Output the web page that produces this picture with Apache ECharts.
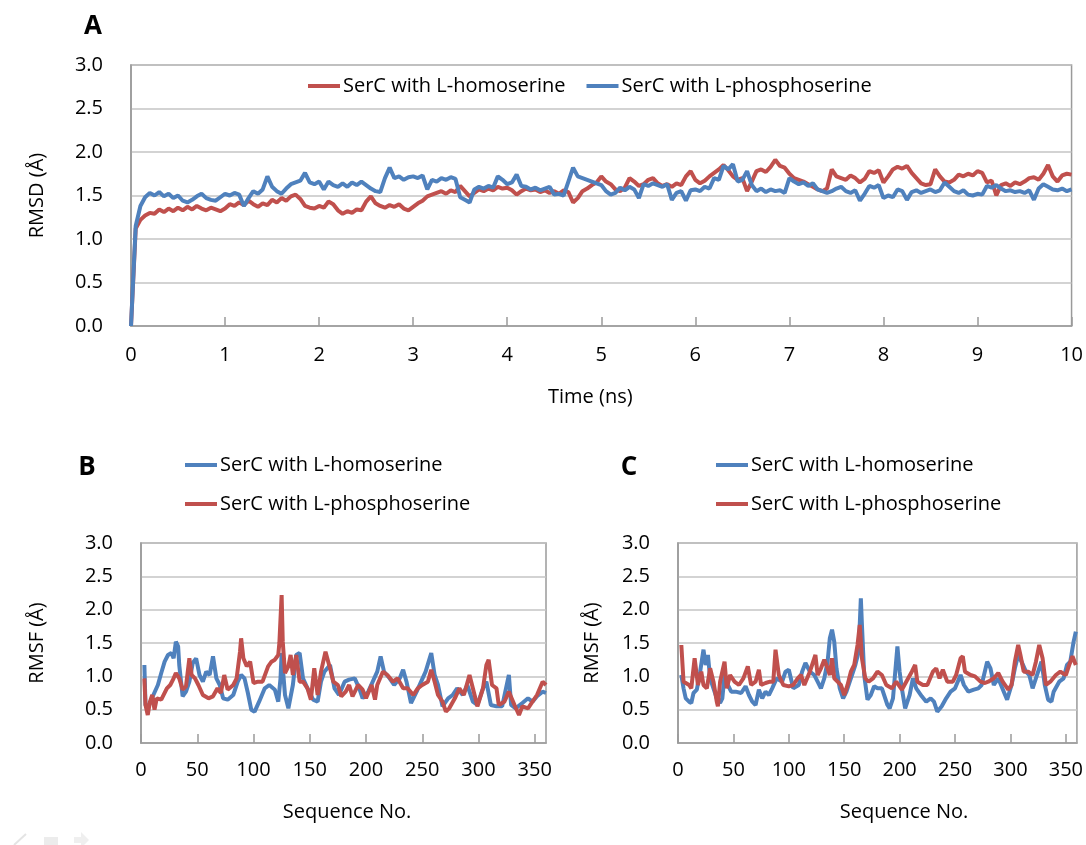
<!DOCTYPE html>
<html>
<head>
<meta charset="utf-8">
<script src="https://cdn.jsdelivr.net/npm/echarts@6/dist/echarts.min.js"></script>
<style>
html,body{margin:0;padding:0;background:#fff;}
#chart{width:1086px;height:845px;}
</style>
</head>
<body>
<div id="chart"></div>
<script>
// ---------- Panel A: RMSD vs time (ns), sampled every 0.05 ns ----------
const timeStep = 0.05;
const rmsdHomo = [
 0.00,1.12,1.22,1.27,1.30,1.29,1.34,1.31,1.35,1.32,
 1.36,1.33,1.37,1.34,1.38,1.35,1.33,1.36,1.34,1.32,
 1.35,1.40,1.38,1.42,1.39,1.44,1.40,1.37,1.41,1.39,
 1.45,1.42,1.47,1.44,1.49,1.51,1.46,1.38,1.36,1.35,
 1.38,1.36,1.43,1.40,1.33,1.29,1.32,1.30,1.34,1.33,
 1.43,1.49,1.41,1.38,1.36,1.39,1.37,1.40,1.35,1.33,
 1.37,1.41,1.44,1.49,1.51,1.53,1.55,1.52,1.56,1.54,
 1.61,1.55,1.49,1.53,1.57,1.55,1.58,1.56,1.60,1.58,
 1.59,1.56,1.51,1.55,1.58,1.56,1.57,1.54,1.56,1.53,
 1.55,1.52,1.56,1.54,1.42,1.47,1.55,1.58,1.62,1.65,
 1.72,1.66,1.63,1.57,1.55,1.59,1.70,1.66,1.61,1.63,
 1.68,1.70,1.64,1.61,1.63,1.60,1.64,1.62,1.72,1.78,
 1.68,1.64,1.67,1.72,1.76,1.80,1.85,1.79,1.72,1.68,
 1.70,1.55,1.66,1.78,1.80,1.77,1.83,1.91,1.84,1.82,
 1.75,1.70,1.68,1.66,1.63,1.60,1.57,1.55,1.58,1.80,
 1.72,1.70,1.68,1.73,1.70,1.65,1.69,1.78,1.76,1.79,
 1.65,1.72,1.80,1.83,1.81,1.84,1.76,1.70,1.64,1.62,
 1.63,1.80,1.72,1.66,1.65,1.68,1.74,1.72,1.75,1.73,
 1.78,1.76,1.65,1.67,1.50,1.62,1.64,1.61,1.65,1.63,
 1.66,1.70,1.71,1.68,1.75,1.85,1.72,1.66,1.73,1.75,
 1.74
];
const rmsdPhos = [
 0.00,1.15,1.38,1.48,1.53,1.50,1.54,1.49,1.52,1.47,
 1.50,1.44,1.42,1.45,1.49,1.52,1.47,1.45,1.44,1.48,
 1.52,1.50,1.53,1.51,1.38,1.47,1.55,1.52,1.57,1.72,
 1.60,1.55,1.52,1.58,1.63,1.65,1.67,1.76,1.65,1.63,
 1.66,1.57,1.66,1.62,1.60,1.64,1.60,1.65,1.62,1.66,
 1.62,1.58,1.55,1.54,1.70,1.82,1.70,1.72,1.68,1.71,
 1.72,1.70,1.73,1.57,1.68,1.66,1.70,1.68,1.71,1.69,
 1.48,1.45,1.42,1.57,1.60,1.58,1.61,1.59,1.72,1.68,
 1.63,1.65,1.74,1.61,1.60,1.57,1.59,1.56,1.58,1.60,
 1.51,1.52,1.50,1.66,1.82,1.72,1.70,1.68,1.66,1.64,
 1.62,1.55,1.51,1.53,1.59,1.56,1.60,1.57,1.47,1.63,
 1.61,1.64,1.62,1.60,1.63,1.45,1.53,1.55,1.44,1.56,
 1.57,1.55,1.60,1.58,1.70,1.68,1.84,1.80,1.86,1.66,
 1.68,1.78,1.62,1.55,1.58,1.54,1.57,1.55,1.56,1.53,
 1.70,1.66,1.63,1.65,1.61,1.64,1.57,1.55,1.53,1.55,
 1.58,1.60,1.55,1.53,1.56,1.44,1.52,1.61,1.59,1.62,
 1.47,1.50,1.48,1.57,1.55,1.45,1.54,1.56,1.53,1.55,
 1.57,1.54,1.56,1.65,1.60,1.55,1.53,1.56,1.51,1.50,
 1.52,1.51,1.61,1.59,1.62,1.58,1.55,1.56,1.54,1.55,
 1.53,1.56,1.45,1.58,1.63,1.60,1.57,1.56,1.58,1.55,
 1.57
];
const timeTicks = [0,1,2,3,4,5,6,7,8,9,10];

// ---------- Panel B: RMSF per residue ----------
const bHomoRes = [3,4,6,11,15,18,21,24,27,29,31,33,34,37,40,43,46,49,52,55,58,61,64,67,70,73,77,82,86,89,92,95,98,101,105,110,114,119,122,124,125,128,131,135,138,141,144,148,153,157,160,163,168,172,176,181,185,190,194,197,202,206,210,213,216,221,225,230,233,236,240,245,249,253,258,261,264,268,273,277,281,286,290,295,299,304,307,311,316,321,327,329,333,339,344,348,352,357,360];
const bHomo = [1.17,0.57,0.52,0.72,0.87,1.05,1.22,1.32,1.35,1.27,1.52,1.45,1.17,0.70,0.77,0.92,1.20,1.27,1.02,0.92,1.07,1.02,1.30,0.97,0.87,0.67,0.65,0.72,0.92,1.02,0.97,0.75,0.50,0.47,0.62,0.82,0.87,0.80,0.62,0.97,1.35,0.72,0.52,0.87,1.32,1.35,0.97,0.82,0.65,0.62,0.92,1.07,1.17,0.82,0.72,0.92,0.95,0.97,0.82,0.67,0.77,0.92,1.07,1.30,1.07,0.97,0.87,0.97,1.10,0.92,0.60,0.77,0.92,1.07,1.35,1.02,0.87,0.55,0.67,0.72,0.82,0.72,0.87,0.62,0.57,0.82,0.92,0.57,0.55,0.55,1.02,0.57,0.52,0.60,0.67,0.62,0.70,0.77,0.75];
const bPhosRes = [3,4,6,8,10,12,14,18,23,26,29,31,34,37,40,43,45,48,51,55,60,64,68,71,74,77,82,85,88,89,91,94,97,100,104,108,113,116,119,122,123,125,126,128,131,133,135,138,141,144,148,151,154,157,160,164,168,171,175,178,182,185,188,193,197,200,205,208,210,215,219,224,228,233,237,242,246,250,255,258,261,264,268,271,274,279,283,287,292,295,299,304,307,309,312,316,318,323,327,332,336,339,344,348,352,357,360];
const bPhos = [0.97,0.57,0.42,0.62,0.72,0.50,0.67,0.65,0.82,0.87,0.97,1.05,0.97,0.80,0.85,1.27,1.02,0.97,0.87,0.72,0.67,0.70,0.82,0.75,1.02,0.80,0.87,0.97,1.37,1.57,1.27,1.15,1.22,0.90,0.92,0.92,1.15,1.22,1.25,1.32,1.50,2.22,1.52,1.05,1.15,1.32,1.02,1.32,0.92,0.92,0.82,0.65,1.12,0.72,1.07,1.37,1.12,0.92,0.87,0.70,0.77,0.87,0.70,0.87,0.80,0.67,0.87,0.65,0.87,1.07,1.02,0.92,0.97,0.82,0.82,0.72,0.82,0.87,0.92,1.10,0.92,0.72,0.62,0.47,0.52,0.67,0.82,0.72,1.02,0.82,0.55,0.82,1.17,1.25,0.87,0.82,0.57,0.62,0.77,0.57,0.42,0.55,0.52,0.62,0.72,0.92,0.87];

// ---------- Panel C: RMSF per residue ----------
const cHomoRes = [3,5,7,10,12,14,17,20,23,25,27,29,32,35,38,40,42,45,48,52,57,61,64,67,70,73,76,79,82,85,89,94,97,100,104,109,112,115,119,123,126,129,132,135,137,139,141,143,146,149,152,155,157,160,163,165,166,168,171,174,177,180,184,189,191,194,198,200,202,205,209,212,215,220,224,228,231,234,238,242,246,250,255,258,262,267,271,274,279,282,285,289,294,297,301,304,307,310,314,317,320,325,328,331,334,337,339,344,348,351,354,357,359];
const cHomo = [1.02,0.82,0.67,0.62,0.60,0.75,0.80,1.07,1.40,1.17,1.32,0.97,0.82,0.67,0.60,0.67,1.02,0.87,0.77,0.77,0.75,0.85,0.72,0.62,0.57,0.80,0.67,0.77,0.72,0.82,0.97,0.92,1.07,1.10,0.82,0.87,1.07,1.20,1.07,1.02,0.92,0.82,0.97,1.22,1.57,1.70,1.52,1.12,0.82,0.67,0.77,0.92,1.02,1.17,1.37,2.17,1.77,1.02,0.65,0.72,0.85,0.82,0.82,0.57,0.52,0.67,1.45,1.07,0.82,0.52,0.72,0.97,0.82,0.70,0.62,0.67,0.62,0.47,0.55,0.67,0.77,0.82,1.02,0.87,0.77,0.80,0.82,0.87,1.22,1.12,0.87,0.97,0.77,0.65,0.87,1.12,1.32,1.22,1.07,1.02,0.82,1.07,1.22,0.87,0.65,0.62,0.77,0.92,0.97,1.17,1.22,1.52,1.67];
const cPhosRes = [3,5,7,10,12,15,18,21,23,26,29,32,35,36,38,42,44,47,51,55,59,63,66,70,73,75,79,83,86,88,91,95,100,104,108,111,114,119,124,126,129,132,135,137,139,141,144,147,150,153,156,159,162,164,166,169,172,176,180,184,188,193,197,202,206,211,214,216,221,225,230,233,236,239,243,248,251,255,257,259,264,268,273,277,280,285,289,293,298,301,304,307,309,312,316,320,323,326,329,332,336,341,345,350,353,356,359];
const cPhos = [1.47,0.92,0.90,0.87,0.82,1.27,0.87,1.07,0.87,0.82,1.12,0.92,0.62,0.55,0.92,1.22,0.82,1.02,0.92,0.87,0.97,1.15,0.87,0.92,1.10,0.87,0.90,0.92,0.92,1.40,1.02,0.87,0.85,0.87,0.97,1.02,0.87,1.07,1.32,1.02,1.12,1.25,1.12,1.02,1.27,0.97,0.92,0.87,0.72,0.87,1.07,1.17,1.47,1.77,1.27,0.97,0.92,0.97,1.07,1.02,0.87,0.82,0.92,0.80,0.92,1.07,1.17,0.92,0.87,0.87,1.07,1.12,0.97,1.10,0.92,0.92,1.02,1.27,1.30,1.07,1.02,1.00,0.92,0.90,0.92,0.97,1.05,0.92,0.80,0.87,1.22,1.47,1.32,1.07,1.07,1.02,1.22,1.47,1.27,0.87,0.92,1.02,1.07,1.02,1.17,1.30,1.17];

const nameHomo = 'SerC with L-homoserine';
const namePhos = 'SerC with L-phosphoserine';
const panelLabels = ['A', 'B', 'C'];

// ---------- styling ----------
const RED = '#C0504D', BLUE = '#4F81BD';
const AXIS = '#9a9a9a', GRID = '#c4c4c4';
const FONT = 'Open Sans';

function zip(xs, ys) { const n = Math.min(xs.length, ys.length); const out = []; for (let i = 0; i < n; i++) out.push([xs[i], ys[i]]); return out; }
const timesA = rmsdHomo.map((_, i) => +(i * timeStep).toFixed(2));

function yAx(gi, name, gap) {
  return {
    gridIndex: gi, type: 'value', min: 0, max: 3, interval: 0.5,
    name: name, nameLocation: 'middle', nameGap: gap, nameRotate: 90,
    nameTextStyle: { fontSize: 20, color: '#000', fontFamily: FONT },
    axisLine: { show: true, lineStyle: { color: AXIS, width: 1.5 } },
    axisTick: { show: false },
    axisLabel: { fontSize: 20, color: '#000', fontFamily: FONT, margin: 28, formatter: v => v.toFixed(1) },
    splitLine: { show: true, lineStyle: { color: GRID, width: 1.5 } }
  };
}
function xAx(gi, name, gap, max, interval, pad, margin) {
  return {
    gridIndex: gi, type: 'value', min: 0, max: max, interval: interval,
    name: name, nameLocation: 'middle', nameGap: gap,
    nameTextStyle: { fontSize: 20, color: '#000', fontFamily: FONT, padding: pad },
    axisLine: { show: true, onZero: false, lineStyle: { color: AXIS, width: 1.5 } },
    axisTick: { show: true, inside: true, length: 9, lineStyle: { color: AXIS, width: 1.5 } },
    axisLabel: { fontSize: 20, color: '#000', fontFamily: FONT, margin: margin, showMaxLabel: max === 10 },
    splitLine: { show: false }
  };
}
function lineSeries(name, color, xi, data) {
  return {
    type: 'line', name: name, xAxisIndex: xi, yAxisIndex: xi, data: data,
    showSymbol: false, symbol: 'none', smooth: false,
    lineStyle: { color: color, width: 4 }, itemStyle: { color: color }
  };
}
function legend(left, top, orient, first, second, gap) {
  return {
    orient: orient, left: left, top: top, itemWidth: 32, itemHeight: 4, itemGap: gap, icon: 'rect',
    textStyle: { fontSize: 20, color: '#000', fontFamily: FONT, padding: [0, 0, 0, -2] },
    selectedMode: false,
    data: [
      { name: first[0], itemStyle: { color: first[1] } },
      { name: second[0], itemStyle: { color: second[1] } }
    ]
  };
}

const option = {
  animation: false,
  backgroundColor: '#ffffff',
  textStyle: { fontFamily: FONT },
  grid: [
    { left: 131, top: 65, width: 941, height: 261, show: true, borderColor: AXIS, borderWidth: 1.5, backgroundColor: 'transparent' },
    { left: 141, top: 543, width: 405, height: 200, show: true, borderColor: AXIS, borderWidth: 1.5, backgroundColor: 'transparent' },
    { left: 678, top: 543, width: 405, height: 200, show: true, borderColor: AXIS, borderWidth: 1.5, backgroundColor: 'transparent' }
  ],
  xAxis: [
    xAx(0, 'Time (ns)', 61, timeTicks[timeTicks.length - 1], timeTicks[1] - timeTicks[0], [0, 22, 0, 0], 19),
    xAx(1, 'Sequence No.', 59, 360, 50, [0, 0, 0, 7], 17),
    xAx(2, 'Sequence No.', 59, 360, 50, [0, 0, 0, 53], 17)
  ],
  yAxis: [
    yAx(0, 'RMSD (Å)', 84),
    yAx(1, 'RMSF (Å)', 94),
    yAx(2, 'RMSF (Å)', 76)
  ],
  legend: [
    legend(303, 71, 'horizontal', [nameHomo, RED], [namePhos, BLUE], 21),
    legend(180, 450, 'vertical', [nameHomo, BLUE], [namePhos, RED], 19),
    legend(711, 450, 'vertical', [nameHomo, BLUE], [namePhos, RED], 19)
  ],
  series: [
    lineSeries(nameHomo, RED, 0, zip(timesA, rmsdHomo)),
    lineSeries(namePhos, BLUE, 0, zip(timesA, rmsdPhos)),
    lineSeries(nameHomo, BLUE, 1, zip(bHomoRes, bHomo)),
    lineSeries(namePhos, RED, 1, zip(bPhosRes, bPhos)),
    lineSeries(nameHomo, BLUE, 2, zip(cHomoRes, cHomo)),
    lineSeries(namePhos, RED, 2, zip(cPhosRes, cPhos))
  ],
  graphic: [
    { type: 'text', x: 93, y: 27, style: { text: panelLabels[0], fontSize: 26, fontWeight: 'bold', fontFamily: FONT, fill: '#000', align: 'center', verticalAlign: 'middle' } },
    { type: 'text', x: 87, y: 468, style: { text: panelLabels[1], fontSize: 26, fontWeight: 'bold', fontFamily: FONT, fill: '#000', align: 'center', verticalAlign: 'middle' } },
    { type: 'text', x: 629, y: 468, style: { text: panelLabels[2], fontSize: 26, fontWeight: 'bold', fontFamily: FONT, fill: '#000', align: 'center', verticalAlign: 'middle' } },
    { type: 'line', shape: { x1: 14, y1: 845, x2: 26, y2: 834 }, style: { stroke: '#e4e4e4', lineWidth: 2 } },
    { type: 'rect', shape: { x: 44, y: 837, width: 14, height: 9 }, style: { fill: '#ececec' } },
    { type: 'polygon', shape: { points: [[74, 837], [81, 837], [81, 832], [89, 840], [81, 848], [81, 843], [74, 843]] }, style: { fill: '#efefef' } }
  ]
};

const chart = echarts.init(document.getElementById('chart'), null, { renderer: 'canvas' });
chart.setOption(option);
</script>
</body>
</html>
